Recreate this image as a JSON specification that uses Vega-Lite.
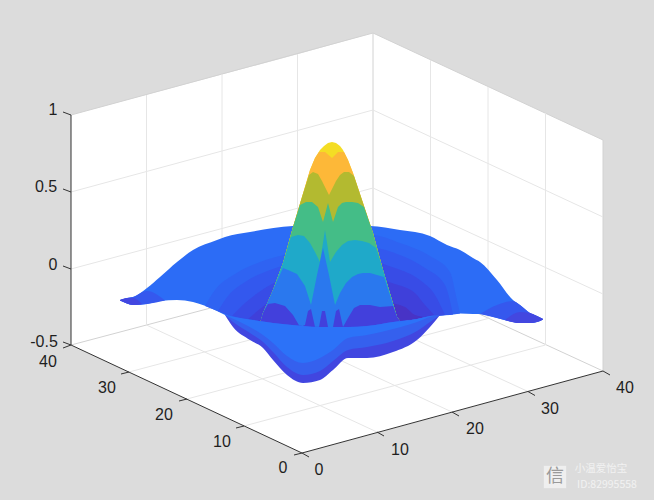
{
"$schema":"https://vega.github.io/schema/vega-lite/v6.json",
"width":654,"height":500,"padding":0,
"autosize":{"type":"fit","contains":"padding"},
"background":"#dcdcdc",
"view":{"stroke":null},
"datasets":{
"box":[{"s":"box","px":71,"top":115,"bot":345},{"s":"box","px":302,"top":53,"bot":453},{"s":"box","px":373,"top":33,"bot":434},{"s":"box","px":603,"top":140,"bot":371}],
"lines":[
{"k":"wall","a":71,"b":115,"c":373,"d":33},{"k":"wall","a":373,"b":33,"c":603,"d":140},{"k":"wall","a":603,"b":140,"c":603,"d":371},{"k":"wall","a":373,"b":33,"c":373,"d":265},
{"k":"wall","a":71,"b":345,"c":373,"d":265},{"k":"wall","a":373,"b":265,"c":603,"d":371},
{"k":"grid","a":71,"b":192,"c":373,"d":110},{"k":"grid","a":71,"b":269,"c":373,"d":188},{"k":"grid","a":373,"b":110,"c":603,"d":217},{"k":"grid","a":373,"b":188,"c":603,"d":294},
{"k":"grid","a":146.5,"b":95,"c":146.5,"d":325},{"k":"grid","a":222,"b":74,"c":222,"d":305.5},{"k":"grid","a":297.5,"b":54,"c":297.5,"d":285.5},
{"k":"grid","a":430.5,"b":60,"c":430.5,"d":292},{"k":"grid","a":488,"b":87,"c":488,"d":318.5},{"k":"grid","a":545.5,"b":113,"c":545.5,"d":345},
{"k":"grid","a":377,"b":432,"c":146.5,"d":325},{"k":"grid","a":452,"b":412,"c":222,"d":305.5},{"k":"grid","a":528,"b":391.5,"c":297.5,"d":285.5},
{"k":"grid","a":244,"b":426,"c":545.5,"d":345},{"k":"grid","a":187,"b":399,"c":488,"d":318.5},{"k":"grid","a":129,"b":372,"c":430.5,"d":292},
{"k":"axis","a":71,"b":115,"c":71,"d":345},{"k":"axis","a":71,"b":345,"c":302,"d":453},{"k":"axis","a":302,"b":453,"c":603,"d":371},
{"k":"axis","a":63,"b":112,"c":71,"d":115},{"k":"axis","a":63,"b":189,"c":71,"d":192},{"k":"axis","a":63,"b":266,"c":71,"d":269},{"k":"axis","a":63,"b":342,"c":71,"d":345},
{"k":"axis","a":63,"b":348,"c":71,"d":345},{"k":"axis","a":129,"b":372,"c":121,"d":374},{"k":"axis","a":187,"b":399,"c":179,"d":401},{"k":"axis","a":244,"b":426,"c":236,"d":428},{"k":"axis","a":302,"b":453,"c":294,"d":455},
{"k":"axis","a":302,"b":453,"c":309,"d":457},{"k":"axis","a":377,"b":432,"c":384,"d":436},{"k":"axis","a":452,"b":412,"c":459,"d":416},{"k":"axis","a":528,"b":391.5,"c":535,"d":395.5},{"k":"axis","a":603,"b":371,"c":610,"d":375}
],
"back":[
{"s":"disc","px":120,"top":300,"bot":300.5},{"s":"disc","px":127,"top":298,"bot":303.5},{"s":"disc","px":133,"top":297,"bot":305},{"s":"disc","px":147,"top":288,"bot":304},{"s":"disc","px":160,"top":277,"bot":301},{"s":"disc","px":177,"top":262,"bot":300},{"s":"disc","px":193,"top":250,"bot":302},{"s":"disc","px":217,"top":240,"bot":311},{"s":"disc","px":225,"top":237,"bot":315},{"s":"disc","px":250,"top":232,"bot":320},{"s":"disc","px":293,"top":226,"bot":325},{"s":"disc","px":330,"top":225,"bot":327},{"s":"disc","px":370,"top":226,"bot":326},{"s":"disc","px":400,"top":230,"bot":321},{"s":"disc","px":430,"top":236,"bot":316},{"s":"disc","px":447,"top":245,"bot":315},{"s":"disc","px":460,"top":250,"bot":313.5},{"s":"disc","px":473,"top":258,"bot":314},{"s":"disc","px":480,"top":262,"bot":314},{"s":"disc","px":497,"top":280,"bot":318},{"s":"disc","px":513,"top":300,"bot":322},{"s":"disc","px":520,"top":305,"bot":323},{"s":"disc","px":530,"top":313,"bot":323},{"s":"disc","px":537,"top":316,"bot":322},{"s":"disc","px":543,"top":319,"bot":319.5},
{"s":"tip2l","px":120,"top":300,"bot":300.5},{"s":"tip2l","px":127,"top":298,"bot":303.5},{"s":"tip2l","px":133,"top":297,"bot":305},{"s":"tip2l","px":147,"top":291,"bot":304},{"s":"tip2l","px":165,"top":300.5,"bot":300.5},
{"s":"tip2r","px":480,"top":314,"bot":314},{"s":"tip2r","px":497,"top":305,"bot":318},{"s":"tip2r","px":513,"top":301,"bot":322},{"s":"tip2r","px":520,"top":305,"bot":323},{"s":"tip2r","px":530,"top":313,"bot":323},{"s":"tip2r","px":537,"top":316,"bot":322},{"s":"tip2r","px":543,"top":319,"bot":319.5},
{"s":"tip1l","px":120,"top":300,"bot":300.5},{"s":"tip1l","px":127,"top":298,"bot":303.5},{"s":"tip1l","px":133,"top":298,"bot":305},{"s":"tip1l","px":142,"top":304,"bot":304},
{"s":"tip1r","px":505,"top":320,"bot":320},{"s":"tip1r","px":520,"top":312,"bot":323},{"s":"tip1r","px":530,"top":313,"bot":323},{"s":"tip1r","px":537,"top":316,"bot":322},{"s":"tip1r","px":543,"top":319,"bot":319.5},
{"s":"b1","px":205,"top":306,"bot":306},{"s":"b1","px":215,"top":290,"bot":310},{"s":"b1","px":235,"top":274,"bot":317},{"s":"b1","px":260,"top":262,"bot":321},{"s":"b1","px":296,"top":252,"bot":325},
{"s":"b1","px":372,"top":235,"bot":326},{"s":"b1","px":400,"top":243,"bot":321},{"s":"b1","px":430,"top":256,"bot":316},{"s":"b1","px":450,"top":272,"bot":315},{"s":"b1","px":457,"top":300,"bot":314},{"s":"b1","px":460,"top":313.5,"bot":313.5},
{"s":"b2","px":218,"top":311,"bot":311},{"s":"b2","px":228,"top":296,"bot":315},{"s":"b2","px":245,"top":282,"bot":319},{"s":"b2","px":270,"top":270,"bot":322},{"s":"b2","px":296,"top":262,"bot":325},
{"s":"b2","px":372,"top":248,"bot":326},{"s":"b2","px":400,"top":255,"bot":321},{"s":"b2","px":425,"top":268,"bot":317},{"s":"b2","px":445,"top":285,"bot":315},{"s":"b2","px":453,"top":314.5,"bot":314.5},
{"s":"b3","px":232,"top":316,"bot":316},{"s":"b3","px":245,"top":303,"bot":319},{"s":"b3","px":262,"top":290,"bot":321},{"s":"b3","px":280,"top":280,"bot":323},{"s":"b3","px":296,"top":275,"bot":325},
{"s":"b3","px":372,"top":262,"bot":326},{"s":"b3","px":395,"top":268,"bot":322},{"s":"b3","px":420,"top":280,"bot":318},{"s":"b3","px":435,"top":295,"bot":316},{"s":"b3","px":445,"top":315,"bot":315},
{"s":"b4","px":248,"top":319,"bot":319},{"s":"b4","px":265,"top":305,"bot":321},{"s":"b4","px":278,"top":296,"bot":323},{"s":"b4","px":296,"top":291,"bot":325},
{"s":"b4","px":372,"top":278,"bot":326},{"s":"b4","px":395,"top":284,"bot":322},{"s":"b4","px":415,"top":293,"bot":319.5},{"s":"b4","px":425,"top":305,"bot":317},{"s":"b4","px":435,"top":316,"bot":316},
{"s":"b5","px":258,"top":321,"bot":321},{"s":"b5","px":275,"top":315,"bot":323},{"s":"b5","px":296,"top":308,"bot":325},
{"s":"b5","px":372,"top":300,"bot":326},{"s":"b5","px":385,"top":302,"bot":324},{"s":"b5","px":405,"top":307,"bot":320},{"s":"b5","px":415,"top":315,"bot":319.5},{"s":"b5","px":425,"top":317,"bot":317}
],
"peak":[
{"s":"p0","px":259,"top":327,"bot":330},{"s":"p0","px":263,"top":313,"bot":330},{"s":"p0","px":273,"top":290,"bot":330},{"s":"p0","px":283,"top":263,"bot":330},{"s":"p0","px":293,"top":227,"bot":330},{"s":"p0","px":302,"top":197,"bot":330},{"s":"p0","px":310,"top":170,"bot":330},{"s":"p0","px":315,"top":158,"bot":330},{"s":"p0","px":320,"top":150,"bot":330},{"s":"p0","px":324,"top":146,"bot":330},{"s":"p0","px":328,"top":143,"bot":330},{"s":"p0","px":332,"top":142,"bot":330},{"s":"p0","px":336,"top":143,"bot":330},{"s":"p0","px":340,"top":146,"bot":330},{"s":"p0","px":343,"top":150,"bot":330},{"s":"p0","px":348,"top":160,"bot":330},{"s":"p0","px":353,"top":173,"bot":330},{"s":"p0","px":363,"top":203,"bot":330},{"s":"p0","px":373,"top":233,"bot":330},{"s":"p0","px":383,"top":270,"bot":330},{"s":"p0","px":397,"top":317,"bot":330},{"s":"p0","px":403,"top":325,"bot":330},
{"s":"p1","px":259,"top":327,"bot":330},{"s":"p1","px":263,"top":313,"bot":330},{"s":"p1","px":273,"top":290,"bot":330},{"s":"p1","px":283,"top":263,"bot":330},{"s":"p1","px":293,"top":227,"bot":330},{"s":"p1","px":302,"top":197,"bot":330},{"s":"p1","px":310,"top":170,"bot":330},{"s":"p1","px":315,"top":158,"bot":330},{"s":"p1","px":319,"top":152,"bot":330},{"s":"p1","px":325,"top":152,"bot":330},{"s":"p1","px":332,"top":158,"bot":330},{"s":"p1","px":338,"top":152,"bot":330},{"s":"p1","px":344,"top":152,"bot":330},{"s":"p1","px":348,"top":160,"bot":330},{"s":"p1","px":353,"top":173,"bot":330},{"s":"p1","px":363,"top":203,"bot":330},{"s":"p1","px":373,"top":233,"bot":330},{"s":"p1","px":383,"top":270,"bot":330},{"s":"p1","px":397,"top":317,"bot":330},{"s":"p1","px":403,"top":325,"bot":330},
{"s":"p2","px":259,"top":327,"bot":330},{"s":"p2","px":263,"top":313,"bot":330},{"s":"p2","px":273,"top":290,"bot":330},{"s":"p2","px":283,"top":263,"bot":330},{"s":"p2","px":293,"top":227,"bot":330},{"s":"p2","px":302,"top":197,"bot":330},{"s":"p2","px":309,"top":175,"bot":330},{"s":"p2","px":313,"top":172,"bot":330},{"s":"p2","px":318,"top":174,"bot":330},{"s":"p2","px":322,"top":181,"bot":330},{"s":"p2","px":329,"top":195,"bot":330},{"s":"p2","px":336,"top":181,"bot":330},{"s":"p2","px":340,"top":175,"bot":330},{"s":"p2","px":344,"top":172,"bot":330},{"s":"p2","px":349,"top":172,"bot":330},{"s":"p2","px":354,"top":176,"bot":330},{"s":"p2","px":363,"top":203,"bot":330},{"s":"p2","px":373,"top":233,"bot":330},{"s":"p2","px":383,"top":270,"bot":330},{"s":"p2","px":397,"top":317,"bot":330},{"s":"p2","px":403,"top":325,"bot":330},
{"s":"p3","px":259,"top":327,"bot":330},{"s":"p3","px":263,"top":313,"bot":330},{"s":"p3","px":273,"top":290,"bot":330},{"s":"p3","px":283,"top":263,"bot":330},{"s":"p3","px":293,"top":227,"bot":330},{"s":"p3","px":300,"top":205,"bot":330},{"s":"p3","px":306,"top":202,"bot":330},{"s":"p3","px":312,"top":202,"bot":330},{"s":"p3","px":318,"top":207,"bot":330},{"s":"p3","px":323,"top":222,"bot":330},{"s":"p3","px":328,"top":203,"bot":330},{"s":"p3","px":333,"top":222,"bot":330},{"s":"p3","px":338,"top":207,"bot":330},{"s":"p3","px":342,"top":203,"bot":330},{"s":"p3","px":346,"top":202,"bot":330},{"s":"p3","px":352,"top":202,"bot":330},{"s":"p3","px":358,"top":203,"bot":330},{"s":"p3","px":364,"top":207,"bot":330},{"s":"p3","px":373,"top":233,"bot":330},{"s":"p3","px":383,"top":270,"bot":330},{"s":"p3","px":397,"top":317,"bot":330},{"s":"p3","px":403,"top":325,"bot":330},
{"s":"p4","px":259,"top":327,"bot":330},{"s":"p4","px":263,"top":313,"bot":330},{"s":"p4","px":273,"top":290,"bot":330},{"s":"p4","px":283,"top":263,"bot":330},{"s":"p4","px":291,"top":237,"bot":330},{"s":"p4","px":298,"top":235,"bot":330},{"s":"p4","px":304,"top":236,"bot":330},{"s":"p4","px":310,"top":243,"bot":330},{"s":"p4","px":315,"top":252,"bot":330},{"s":"p4","px":320,"top":262,"bot":330},{"s":"p4","px":325,"top":230,"bot":330},{"s":"p4","px":330,"top":262,"bot":330},{"s":"p4","px":336,"top":252,"bot":330},{"s":"p4","px":342,"top":245,"bot":330},{"s":"p4","px":348,"top":241,"bot":330},{"s":"p4","px":355,"top":240,"bot":330},{"s":"p4","px":362,"top":241,"bot":330},{"s":"p4","px":369,"top":243,"bot":330},{"s":"p4","px":376,"top":248,"bot":330},{"s":"p4","px":383,"top":270,"bot":330},{"s":"p4","px":397,"top":317,"bot":330},{"s":"p4","px":403,"top":325,"bot":330},
{"s":"p5","px":259,"top":327,"bot":330},{"s":"p5","px":263,"top":313,"bot":330},{"s":"p5","px":273,"top":290,"bot":330},{"s":"p5","px":283,"top":268,"bot":330},{"s":"p5","px":288,"top":270,"bot":330},{"s":"p5","px":297,"top":274,"bot":330},{"s":"p5","px":305,"top":286,"bot":330},{"s":"p5","px":311,"top":305,"bot":330},{"s":"p5","px":317,"top":275,"bot":330},{"s":"p5","px":323,"top":248,"bot":330},{"s":"p5","px":329,"top":275,"bot":330},{"s":"p5","px":335,"top":305,"bot":330},{"s":"p5","px":340,"top":293,"bot":330},{"s":"p5","px":346,"top":283,"bot":330},{"s":"p5","px":352,"top":277,"bot":330},{"s":"p5","px":358,"top":274,"bot":330},{"s":"p5","px":363,"top":273,"bot":330},{"s":"p5","px":370,"top":273,"bot":330},{"s":"p5","px":377,"top":275,"bot":330},{"s":"p5","px":384,"top":277,"bot":330},{"s":"p5","px":397,"top":317,"bot":330},{"s":"p5","px":403,"top":325,"bot":330},
{"s":"p6","px":259,"top":327,"bot":330},{"s":"p6","px":263,"top":313,"bot":330},{"s":"p6","px":268,"top":304,"bot":330},{"s":"p6","px":275,"top":303,"bot":330},{"s":"p6","px":285,"top":306,"bot":330},{"s":"p6","px":293,"top":315,"bot":330},{"s":"p6","px":300,"top":327,"bot":330},{"s":"p6","px":305,"top":325,"bot":330},{"s":"p6","px":308,"top":311,"bot":330},{"s":"p6","px":311,"top":309,"bot":330},{"s":"p6","px":315,"top":327,"bot":330},{"s":"p6","px":319,"top":327,"bot":330},{"s":"p6","px":322,"top":311,"bot":330},{"s":"p6","px":325,"top":311,"bot":330},{"s":"p6","px":328,"top":327,"bot":330},{"s":"p6","px":333,"top":327,"bot":330},{"s":"p6","px":336,"top":311,"bot":330},{"s":"p6","px":339,"top":309,"bot":330},{"s":"p6","px":343,"top":327,"bot":330},{"s":"p6","px":348,"top":318,"bot":330},{"s":"p6","px":354,"top":308,"bot":330},{"s":"p6","px":360,"top":305,"bot":330},{"s":"p6","px":370,"top":305,"bot":330},{"s":"p6","px":380,"top":307,"bot":330},{"s":"p6","px":393,"top":306,"bot":330},{"s":"p6","px":397,"top":317,"bot":330},{"s":"p6","px":403,"top":325,"bot":330}
],
"front":[
{"s":"belly0","px":225,"top":315,"bot":315},{"s":"belly0","px":233,"top":317,"bot":327},{"s":"belly0","px":250,"top":320,"bot":340},{"s":"belly0","px":263,"top":321.5,"bot":348},{"s":"belly0","px":273,"top":323,"bot":360},{"s":"belly0","px":287,"top":324.5,"bot":375},{"s":"belly0","px":303,"top":326,"bot":383},{"s":"belly0","px":320,"top":327,"bot":380},{"s":"belly0","px":333,"top":327,"bot":370},{"s":"belly0","px":348,"top":327,"bot":358},{"s":"belly0","px":367,"top":326,"bot":358},{"s":"belly0","px":393,"top":322,"bot":352},{"s":"belly0","px":417,"top":319,"bot":340},{"s":"belly0","px":430,"top":316,"bot":327},{"s":"belly0","px":440,"top":315,"bot":315},
{"s":"belly1","px":225,"top":315,"bot":315},{"s":"belly1","px":233,"top":317,"bot":322},{"s":"belly1","px":250,"top":320,"bot":333},{"s":"belly1","px":263,"top":321.5,"bot":342},{"s":"belly1","px":273,"top":323,"bot":352},{"s":"belly1","px":287,"top":324.5,"bot":367},{"s":"belly1","px":303,"top":326,"bot":375},{"s":"belly1","px":320,"top":327,"bot":371},{"s":"belly1","px":333,"top":327,"bot":361},{"s":"belly1","px":348,"top":327,"bot":350},{"s":"belly1","px":367,"top":326,"bot":347},{"s":"belly1","px":393,"top":322,"bot":341},{"s":"belly1","px":417,"top":319,"bot":331},{"s":"belly1","px":430,"top":316,"bot":322},{"s":"belly1","px":440,"top":315,"bot":315},
{"s":"belly2","px":225,"top":315,"bot":315},{"s":"belly2","px":240,"top":318,"bot":322},{"s":"belly2","px":263,"top":321.5,"bot":335},{"s":"belly2","px":273,"top":323,"bot":343},{"s":"belly2","px":287,"top":324.5,"bot":356},{"s":"belly2","px":303,"top":326,"bot":363},{"s":"belly2","px":320,"top":327,"bot":358},{"s":"belly2","px":333,"top":327,"bot":350},{"s":"belly2","px":348,"top":327,"bot":338},{"s":"belly2","px":367,"top":326,"bot":335},{"s":"belly2","px":393,"top":322,"bot":329},{"s":"belly2","px":417,"top":319,"bot":322},{"s":"belly2","px":430,"top":316,"bot":317},{"s":"belly2","px":440,"top":315,"bot":315}
],
"labels":[
{"t":"1","px":53,"py":110},{"t":"0.5","px":46,"py":187},{"t":"0","px":53,"py":265},{"t":"-0.5","px":44,"py":342},
{"t":"40","px":48,"py":362},{"t":"30","px":107,"py":388},{"t":"20","px":164,"py":415},{"t":"10","px":222,"py":442},{"t":"0","px":283,"py":468},
{"t":"0","px":319,"py":470},{"t":"10","px":400,"py":450},{"t":"20","px":475,"py":429},{"t":"30","px":550,"py":409},{"t":"40","px":625,"py":388}
],
"mark":[{"t":"小温爱怡宝","px":601,"py":469},{"t":"ID:82995558","px":607,"py":485}],
"logo":[{"t":"信","px":555,"py":477}]
},
"encoding":{
"x":{"type":"quantitative","scale":{"domain":[0,654],"nice":false,"zero":false},"axis":null},
"y":{"type":"quantitative","scale":{"domain":[500,0],"nice":false,"zero":false},"axis":null}
},
"resolve":{"scale":{"color":"independent"}},
"layer":[
{"data":{"name":"box"},"mark":{"type":"area","color":"#ffffff"},"encoding":{"x":{"field":"px","type":"quantitative"},"y":{"field":"top","type":"quantitative"},"y2":{"field":"bot"}}},
{"data":{"name":"lines"},"transform":[{"filter":"datum.k !== 'axis'"}],"mark":{"type":"rule","strokeWidth":1},"encoding":{"x":{"field":"a","type":"quantitative"},"y":{"field":"b","type":"quantitative"},"x2":{"field":"c"},"y2":{"field":"d"},"color":{"field":"k","type":"nominal","legend":null,"scale":{"domain":["wall","grid"],"range":["#d2d2d2","#e6e6e6"]}}}},
{"data":{"name":"back"},"mark":{"type":"area","interpolate":"monotone"},"encoding":{"x":{"field":"px","type":"quantitative"},"y":{"field":"top","type":"quantitative"},"y2":{"field":"bot"},"color":{"field":"s","type":"nominal","legend":null,"scale":{"domain":["disc","tip2l","tip2r","tip1l","tip1r","b1","b2","b3","b4","b5"],"range":["#2c6cf6","#3558ee","#3558ee","#4347e0","#4347e0","#2f63f2","#3358ee","#384ce6","#3f40da","#4833c6"]}}}},
{"data":{"name":"peak"},"mark":{"type":"area","interpolate":"linear"},"encoding":{"x":{"field":"px","type":"quantitative"},"y":{"field":"top","type":"quantitative"},"y2":{"field":"bot"},"color":{"field":"s","type":"nominal","legend":null,"scale":{"domain":["p0","p1","p2","p3","p4","p5","p6"],"range":["#f4dd24","#fdb838","#b3ba30","#44bd87","#1fa9c9","#2a78ee","#4240dc"]}}}},
{"data":{"name":"front"},"mark":{"type":"area","interpolate":"monotone"},"encoding":{"x":{"field":"px","type":"quantitative"},"y":{"field":"top","type":"quantitative"},"y2":{"field":"bot"},"color":{"field":"s","type":"nominal","legend":null,"scale":{"domain":["belly0","belly1","belly2"],"range":["#4146e0","#3560ee","#2c72f8"]}}}},
{"data":{"name":"lines"},"transform":[{"filter":"datum.k === 'axis'"}],"mark":{"type":"rule","strokeWidth":1,"color":"#333333"},"encoding":{"x":{"field":"a","type":"quantitative"},"y":{"field":"b","type":"quantitative"},"x2":{"field":"c"},"y2":{"field":"d"}}},
{"data":{"name":"labels"},"mark":{"type":"text","font":"Liberation Sans","fontSize":16,"baseline":"middle","color":"#1f1f1f"},"encoding":{"x":{"field":"px","type":"quantitative"},"y":{"field":"py","type":"quantitative"},"text":{"field":"t"}}},
{"data":{"name":"logo"},"mark":{"type":"square","size":500,"filled":true,"opacity":1,"color":"#efefef"},"encoding":{"x":{"field":"px","type":"quantitative"},"y":{"field":"py","type":"quantitative"}}},
{"data":{"name":"logo"},"mark":{"type":"text","font":"Noto Sans CJK SC","fontSize":18,"baseline":"middle","color":"#9a9a9a"},"encoding":{"x":{"field":"px","type":"quantitative"},"y":{"field":"py","type":"quantitative"},"text":{"field":"t"}}},
{"data":{"name":"mark"},"mark":{"type":"text","font":"Noto Sans CJK SC","fontSize":10.5,"baseline":"middle","color":"#f2f2f2"},"encoding":{"x":{"field":"px","type":"quantitative"},"y":{"field":"py","type":"quantitative"},"text":{"field":"t"}}}
]
}
